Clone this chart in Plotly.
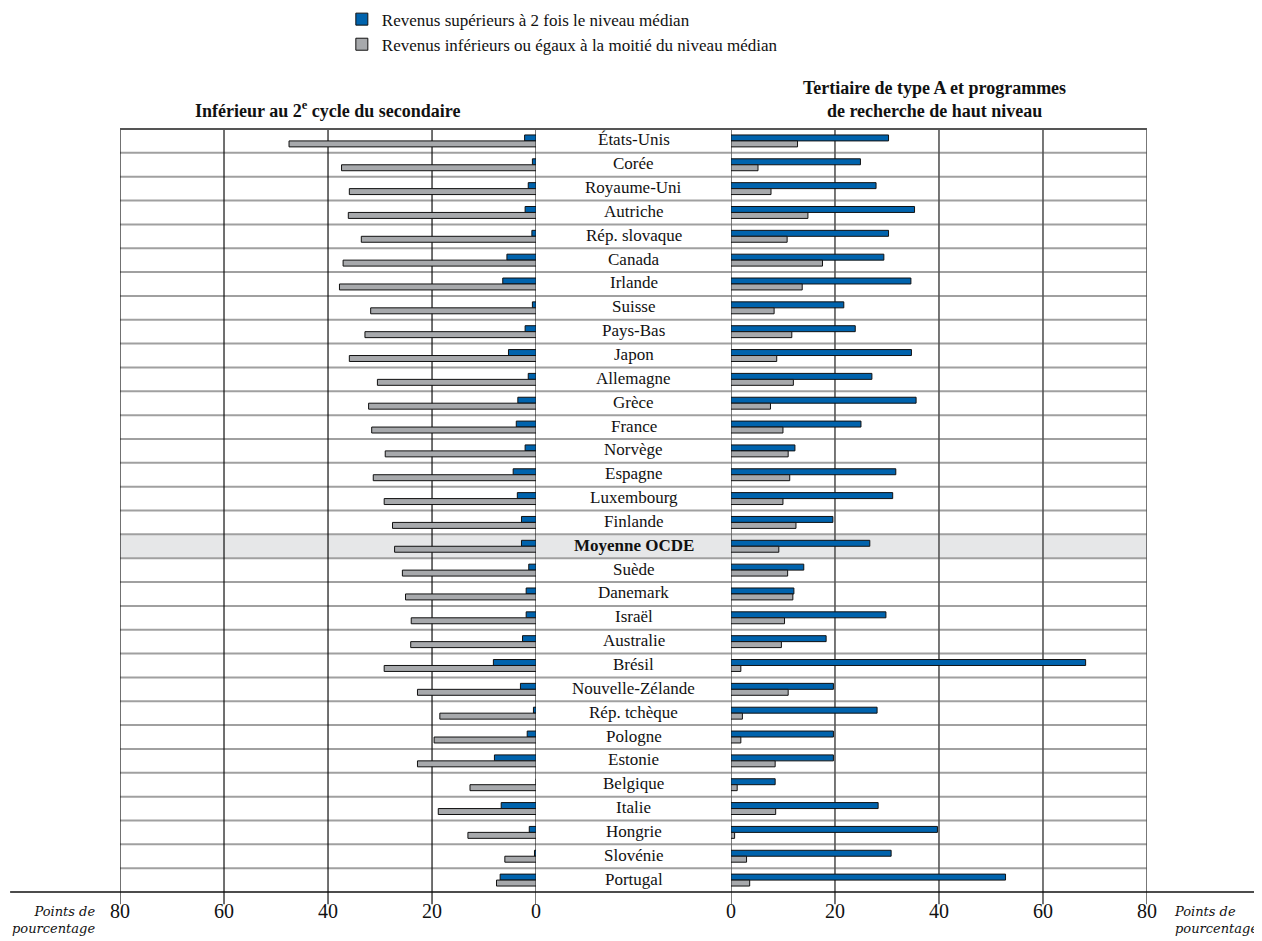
import plotly.graph_objects as go

countries = ["États-Unis", "Corée", "Royaume-Uni", "Autriche", "Rép. slovaque", "Canada",
             "Irlande", "Suisse", "Pays-Bas", "Japon", "Allemagne", "Grèce", "France",
             "Norvège", "Espagne", "Luxembourg", "Finlande", "Moyenne OCDE", "Suède",
             "Danemark", "Israël", "Australie", "Brésil", "Nouvelle-Zélande", "Rép. tchèque",
             "Pologne", "Estonie", "Belgique", "Italie", "Hongrie", "Slovénie", "Portugal"]

# Below upper secondary (left panel)
low_high = [2.2, 0.7, 1.5, 2.1, 0.8, 5.6, 6.4, 0.7, 2.1, 5.3, 1.5, 3.5, 3.8, 2.1, 4.4, 3.6,
            2.8, 2.8, 1.4, 1.9, 1.9, 2.6, 8.2, 3.0, 0.5, 1.7, 8.0, -0.3, 6.7, 1.3, 0.3, 6.9]
low_low = [47.5, 37.4, 35.9, 36.1, 33.6, 37.1, 37.8, 31.8, 32.9, 35.9, 30.5, 32.2, 31.6, 29.0,
           31.3, 29.2, 27.6, 27.2, 25.7, 25.1, 24.0, 24.1, 29.2, 22.8, 18.5, 19.6, 22.8, 12.7,
           18.8, 13.1, 6.0, 7.6]

# Tertiary-type A (right panel)
ter_high = [30.3, 24.9, 27.9, 35.3, 30.3, 29.4, 34.6, 21.7, 23.9, 34.7, 27.1, 35.6, 25.0, 12.3,
            31.7, 31.1, 19.6, 26.7, 14.0, 12.1, 29.8, 18.3, 68.2, 19.7, 28.1, 19.7, 19.7, 8.5,
            28.3, 39.7, 30.8, 52.8]
ter_low = [12.8, 5.2, 7.7, 14.8, 10.8, 17.6, 13.7, 8.3, 11.7, 8.8, 12.0, 7.6, 10.0, 11.0, 11.3,
           10.0, 12.5, 9.2, 10.9, 11.9, 10.3, 9.7, 1.9, 11.0, 2.2, 1.9, 8.5, 1.2, 8.6, 0.7, 3.0, 3.6]

legend_names = ["Revenus supérieurs à 2 fois le niveau médian",
                "Revenus inférieurs ou égaux à la moitié du niveau médian"]
title_left = "<b>Inférieur au 2<sup>e</sup> cycle du secondaire</b>"
title_right = "<b>Tertiaire de type A et programmes<br>de recherche de haut niveau</b>"
axis_ticks = [0, 20, 40, 60, 80]
unit_label = "<i>Points de<br>pourcentage</i>"
highlight = "Moyenne OCDE"

BLUE = "#0063ad"
GRAY = "#a7a9ac"
FONT = "Liberation Serif"

fig = go.Figure()
for vals, col, name, show in [(low_high, BLUE, legend_names[0], True),
                              (low_low, GRAY, legend_names[1], True)]:
    fig.add_trace(go.Bar(y=countries, x=vals, orientation="h", name=name, showlegend=show,
                         marker=dict(color=col, line=dict(color="#111", width=1)),
                         xaxis="x", yaxis="y", legendgroup=name))
for vals, col, name in [(ter_high, BLUE, legend_names[0]), (ter_low, GRAY, legend_names[1])]:
    fig.add_trace(go.Bar(y=countries, x=vals, orientation="h", name=name, showlegend=False,
                         marker=dict(color=col, line=dict(color="#111", width=1)),
                         xaxis="x2", yaxis="y", legendgroup=name))

n = len(countries)
shapes = []
# highlight row
hi = countries.index(highlight)
shapes.append(dict(type="rect", xref="paper", yref="y", x0=0, x1=1, y0=hi - 0.5, y1=hi + 0.5,
                   fillcolor="#e6e7e8", line=dict(width=0), layer="below"))
# row separators
for i in range(n - 1):
    shapes.append(dict(type="line", xref="paper", yref="y", x0=0, x1=1, y0=i + 0.5, y1=i + 0.5,
                       line=dict(color="#a0a0a0", width=2), layer="below"))
# top border
shapes.append(dict(type="line", xref="paper", yref="paper", x0=0, x1=1, y0=1, y1=1,
                   line=dict(color="#555", width=2)))
# bottom long axis line
shapes.append(dict(type="line", xref="paper", yref="paper", x0=-0.107, x1=1.107, y0=0, y1=0,
                   line=dict(color="#111", width=1.5)))
# vertical lines of panels (edges and grid)
for t in axis_ticks:
    shapes.append(dict(type="line", xref="x", yref="paper", x0=t, x1=t, y0=-0.016, y1=1,
                       line=dict(color="#111", width=1.2), layer="below"))
    shapes.append(dict(type="line", xref="x2", yref="paper", x0=t, x1=t, y0=-0.016, y1=1,
                       line=dict(color="#555", width=1.6), layer="below"))

annotations = []
for c in countries:
    txt = f"<b>{c}</b>" if c == highlight else c
    annotations.append(dict(xref="paper", yref="y", x=0.5, y=c, text=txt, showarrow=False,
                            font=dict(family=FONT, size=17, color="#111"),
                            xanchor="center", yanchor="middle", yshift=1))
annotations.append(dict(xref="paper", yref="paper", x=0.2025, y=1, text=title_left,
                        showarrow=False, xanchor="center", yanchor="bottom", yshift=6,
                        font=dict(family=FONT, size=18, color="#111")))
annotations.append(dict(xref="paper", yref="paper", x=0.7926, y=1, text=title_right,
                        showarrow=False, xanchor="center", yanchor="bottom", yshift=6,
                        font=dict(family=FONT, size=18, color="#111")))
annotations.append(dict(xref="paper", yref="paper", x=-0.0224, y=0, text=unit_label,
                        showarrow=False, xanchor="right", yanchor="top", yshift=-10, align="right",
                        font=dict(family="DejaVu Serif", size=13, color="#111")))
annotations.append(dict(xref="paper", yref="paper", x=1.0243, y=0, text=unit_label,
                        showarrow=False, xanchor="left", yanchor="top", yshift=-10, align="left",
                        font=dict(family="DejaVu Serif", size=13, color="#111")))

axis_common = dict(tickvals=axis_ticks, ticks="", showgrid=False, zeroline=False,
                   showline=False, tickfont=dict(family=FONT, size=20, color="#111"),
                   anchor="y", fixedrange=True, ticklabelstandoff=5)
fig.update_layout(
    width=1254, height=933,
    margin=dict(l=112, r=115, t=121, b=49, autoexpand=False),
    paper_bgcolor="white", plot_bgcolor="white",
    barmode="group", bargap=0.5, bargroupgap=0,
    xaxis=dict(domain=[0, 0.4051], range=[80, 0], **axis_common),
    xaxis2=dict(domain=[0.5949, 1], range=[0, 80], **axis_common),
    yaxis=dict(range=[n - 0.5, -0.5], showticklabels=False, showgrid=False, zeroline=False,
               ticks="", showline=False),
    shapes=shapes, annotations=annotations,
    legend=dict(x=0.216, y=1.167, xanchor="left", yanchor="top", traceorder="normal",
                font=dict(family=FONT, size=17, color="#111"), bgcolor="rgba(0,0,0,0)",
                tracegroupgap=0, itemclick=False),
    font=dict(family=FONT),
)
fig.write_html("out.html")
